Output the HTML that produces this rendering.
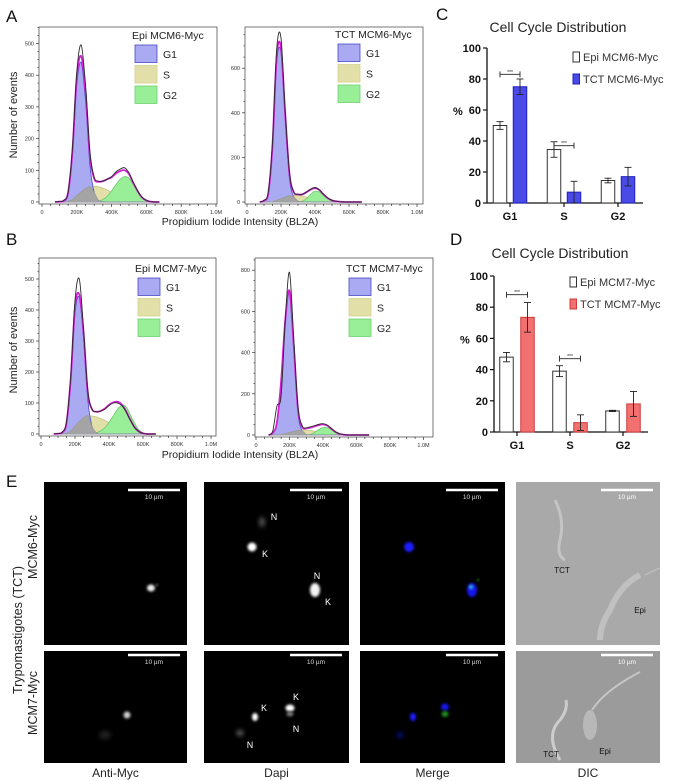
<!DOCTYPE html>
<html><head><meta charset="utf-8">
<style>
html,body{margin:0;padding:0;background:#fff;}
svg{display:block;font-family:"Liberation Sans",sans-serif;}
</style></head>
<body>
<svg id="fig" width="674" height="781" viewBox="0 0 674 781" xmlns="http://www.w3.org/2000/svg">
<defs>
<filter id="blur1" x="-50%" y="-50%" width="200%" height="200%"><feGaussianBlur stdDeviation="1.2"/></filter>
<filter id="blur2" x="-50%" y="-50%" width="200%" height="200%"><feGaussianBlur stdDeviation="2.5"/></filter>
</defs>
<g id="root"></g>
</svg>
<script>
// ---------- Histogram data (x grid in K units) ----------
const histK = [75,100,125,150,175,200,225,250,275,300,325,350,375,400,425,450,475,500,525,550,575,600,625,650,675];
// A1 Epi MCM6-Myc
const a1Total = [0,2,5,32,170,410,495,370,160,78,66,66,72,80,95,104,108,92,62,35,15,5,1,0,0];
const a1Fit   = [0,1,4,30,160,395,460,350,150,74,64,66,72,78,90,98,100,88,60,34,14,5,1,0,0];
const a1G1    = [0,0,2,25,150,370,440,320,120,30,5,1,0,0,0,0,0,0,0,0,0,0,0,0,0];
const a1S     = [0,0,0,2,8,20,32,42,48,50,48,44,38,30,22,15,9,4,2,0,0,0,0,0,0];
const a1G2    = [0,0,0,0,0,0,0,0,0,1,3,8,18,35,55,72,80,75,55,33,14,5,1,0,0];
// A2 TCT MCM6-Myc
const a2Total = [0,8,45,270,690,735,400,130,45,35,35,45,58,65,55,35,18,8,3,1,0,0,0,0,0];
const a2Fit   = [0,6,40,255,660,690,390,125,44,34,34,44,56,62,54,34,17,7,3,1,0,0,0,0,0];
const a2G1    = [0,5,38,245,630,670,370,105,22,4,0,0,0,0,0,0,0,0,0,0,0,0,0,0,0];
const a2S     = [0,0,0,2,8,15,22,28,30,30,27,22,16,10,5,2,0,0,0,0,0,0,0,0,0];
const a2G2    = [0,0,0,0,0,0,0,0,0,0,3,15,35,48,45,30,15,6,2,0,0,0,0,0,0];
// B1 Epi MCM7-Myc
const b1Total = [0,2,6,40,190,430,500,340,140,80,72,74,80,92,100,100,92,72,45,22,8,2,0,0,0];
const b1Fit   = [0,1,5,36,180,410,450,330,135,80,72,74,82,94,102,104,95,74,46,22,8,2,0,0,0];
const b1G1    = [0,0,3,32,170,390,440,310,110,25,4,0,0,0,0,0,0,0,0,0,0,0,0,0,0];
const b1S     = [0,0,0,3,10,25,40,52,58,58,55,50,44,36,28,20,12,6,2,0,0,0,0,0,0];
const b1G2    = [0,0,0,0,0,0,0,0,0,1,4,10,20,38,58,80,92,88,62,35,14,4,1,0,0];
// B2 TCT MCM7-Myc
const b2Total = [0,20,140,190,560,790,470,140,45,35,40,45,52,55,48,32,15,6,2,0,0,0,0,0,0];
const b2Fit   = [0,10,60,260,560,700,440,130,40,32,36,42,48,52,46,30,14,5,1,0,0,0,0,0,0];
const b2G1    = [0,9,58,255,550,690,420,110,20,3,0,0,0,0,0,0,0,0,0,0,0,0,0,0,0];
const b2S     = [0,0,0,2,6,12,18,22,24,24,22,18,14,9,5,2,0,0,0,0,0,0,0,0,0];
const b2G2    = [0,0,0,0,0,0,0,0,0,0,3,12,26,36,36,26,13,5,1,0,0,0,0,0,0];

// ---------- Bar chart data ----------
const phases = ["G1","S","G2"];
const cEpi = [50,34.5,14.5];
const cEpiErr = [2.5,5,1.5];
const cTct = [75,7,17];
const cTctErr = [5,7,6];
const cSig = [83,37];
const dEpi = [48,39,13.5];
const dEpiErr = [3,3.5,0.4];
const dTct = [73.5,6,18];
const dTctErr = [9.5,5,8];
const dSig = [88,47];
const barTicks = [0,20,40,60,80,100];

const NS="http://www.w3.org/2000/svg";
const root=document.getElementById('root');
function el(tag,attrs,parent,text){
  const e=document.createElementNS(NS,tag);
  for(const k in attrs) e.setAttribute(k,attrs[k]);
  if(text!==undefined) e.textContent=text;
  (parent||root).appendChild(e);
  return e;
}
function smooth(pts){
  let d='M'+pts[0][0].toFixed(1)+','+pts[0][1].toFixed(1);
  for(let i=0;i<pts.length-1;i++){
    const p0=pts[Math.max(0,i-1)],p1=pts[i],p2=pts[i+1],p3=pts[Math.min(pts.length-1,i+2)];
    const c1=[p1[0]+(p2[0]-p0[0])/6,p1[1]+(p2[1]-p0[1])/6];
    const c2=[p2[0]-(p3[0]-p1[0])/6,p2[1]-(p3[1]-p1[1])/6];
    d+='C'+c1[0].toFixed(1)+','+c1[1].toFixed(1)+' '+c2[0].toFixed(1)+','+c2[1].toFixed(1)+' '+p2[0].toFixed(1)+','+p2[1].toFixed(1);
  }
  return d;
}
function txt(x,y,s,size,attrs,parent){
  const a=Object.assign({x:x,y:y,'font-size':size,fill:'#222'},attrs||{});
  return el('text',a,parent,s);
}

function histogram(cfg){
  const g=el('g',{});
  
  
  const xs=k=>cfg.x0+k/200*cfg.px200;
  const ys=v=>cfg.y0-v*cfg.pxUnit;
  const fr=el('rect',{x:cfg.fx1,y:cfg.fy1,width:cfg.fx2-cfg.fx1,height:cfg.fy2-cfg.fy1,fill:'#fff',stroke:'#555','stroke-width':0.8},g);
  
  
  const area=(arr,fill,stroke,nm)=>{
    const pts=histK.map((k,i)=>[xs(k),ys(arr[i])]);
    const d=smooth(pts)+'L'+xs(histK[histK.length-1])+','+ys(0)+'L'+xs(histK[0])+','+ys(0)+'Z';
    const p=el('path',{d:d,fill:fill,stroke:stroke,'stroke-width':0.8},g);
    
    
  };
  area(cfg.S,'#e2e0a8','#c8c680','s-phase-area');
  area(cfg.G2,'#98ef98','#6cc86c','g2-phase-area');
  area(cfg.G1,'#aaaaf2','#4848c8','g1-phase-area');
  const ov=cfg.G1.map((v,i)=>Math.min(v,cfg.S[i]));
  area(ov,'#a4a4a4','#999','g1-s-overlap-area');
  const line=(arr,color,w,nm)=>{
    const p=el('path',{d:smooth(histK.map((k,i)=>[xs(k),ys(arr[i])])),fill:'none',stroke:color,'stroke-width':w},g);
    
    
  };
  line(cfg.fit,'#d21fd2',1.8,'model-fit-line');
  line(cfg.total,'#2a2a2a',0.9,'raw-data-line');
  const xl=['0','200K','400K','600K','800K','1.0M'];
  for(let i=0;i<=20;i++){
    const k=i*50,x=xs(k);
    el('line',{x1:x,y1:cfg.fy2,x2:x,y2:cfg.fy2+(i%4==0?3:2),stroke:'#333','stroke-width':0.7},g);
  }
  xl.forEach((s,i)=>{
    const t=txt(xs(i*200),cfg.fy2+10,s,5.5,{'text-anchor':'middle',fill:'#333'},g);
    
    
  });
  for(let v=0;v<=cfg.ymax;v+=cfg.ystep/4){
    const major=Math.abs(v/cfg.ystep-Math.round(v/cfg.ystep))<1e-6;
    el('line',{x1:cfg.fx1,y1:ys(v),x2:cfg.fx1-(major?3:1.5),y2:ys(v),stroke:'#333','stroke-width':0.7},g);
    if(major){
      const t=txt(cfg.fx1-5,ys(v)+2,String(v),5.5,{'text-anchor':'end',fill:'#333'},g);
      
      
    }
  }
  const lg=el('g',{},g);
  
  
  txt(cfg.lx-3,cfg.ly,cfg.title,10.5,{fill:'#222'},lg);
  const sw=[['G1','#aaaaf2','#4848c8'],['S','#e2e0a8','#d4d290'],['G2','#98ef98','#70d070']];
  sw.forEach((s,i)=>{
    const y=cfg.ly+6+i*20.5;
    const r=el('rect',{x:cfg.lx,y:y,width:22,height:17.5,fill:s[1],stroke:s[2],'stroke-width':0.8},lg);
    
    
    const t=txt(cfg.lx+28,y+13,s[0],10.5,{fill:'#222'},lg);
    
    
  });
}

histogram({name:'histogram-epi-mcm6',fx1:39,fx2:217,fy1:27,fy2:204,x0:42,px200:34.8,y0:202,pxUnit:0.317,ymax:550,ystep:100,
  total:a1Total,fit:a1Fit,G1:a1G1,S:a1S,G2:a1G2,title:'Epi MCM6-Myc',lx:135,ly:39});
histogram({name:'histogram-tct-mcm6',fx1:245,fx2:423,fy1:27,fy2:204,x0:247,px200:34,y0:202,pxUnit:0.223,ymax:780,ystep:200,
  total:a2Total,fit:a2Fit,G1:a2G1,S:a2S,G2:a2G2,title:'TCT MCM6-Myc',lx:338,ly:38});
histogram({name:'histogram-epi-mcm7',fx1:39,fx2:216,fy1:258,fy2:436,x0:41,px200:34,y0:434,pxUnit:0.31,ymax:550,ystep:100,
  total:b1Total,fit:b1Fit,G1:b1G1,S:b1S,G2:b1G2,title:'Epi MCM7-Myc',lx:138,ly:272});
histogram({name:'histogram-tct-mcm7',fx1:255,fx2:433,fy1:258,fy2:437,x0:256,px200:33.5,y0:435,pxUnit:0.206,ymax:850,ystep:200,
  total:b2Total,fit:b2Fit,G1:b2G1,S:b2S,G2:b2G2,title:'TCT MCM7-Myc',lx:349,ly:272});

function barChart(cfg){
  const g=el('g',{});
  
  
  const ys=v=>cfg.y0-v*cfg.pxUnit;
  const xc=i=>cfg.cx0+i*cfg.spacing;
  el('line',{x1:cfg.ax,y1:ys(100),x2:cfg.ax,y2:ys(0),stroke:'#111','stroke-width':1.3},g);
  el('line',{x1:cfg.ax,y1:ys(0),x2:cfg.axEnd,y2:ys(0),stroke:'#111','stroke-width':1.3},g);
  barTicks.forEach(v=>{
    el('line',{x1:cfg.ax-4,y1:ys(v),x2:cfg.ax,y2:ys(v),stroke:'#111','stroke-width':1.2},g);
    const t=txt(cfg.ax-6,ys(v)+4,String(v),11,{'text-anchor':'end','font-weight':'bold',fill:'#111'},g);
    
    
  });
  phases.forEach((p,i)=>{
    el('line',{x1:xc(i),y1:ys(0),x2:xc(i),y2:ys(0)+4,stroke:'#111','stroke-width':1.2},g);
    const t=txt(xc(i),ys(0)+17,p,11,{'text-anchor':'middle','font-weight':'bold',fill:'#111'},g);
    
    
    const draw=(val,err,x,fill,stroke,nm)=>{
      const r=el('rect',{x:x-cfg.bw/2,y:ys(val),width:cfg.bw,height:ys(0)-ys(val),fill:fill,stroke:stroke,'stroke-width':1},g);
      
      
      el('line',{x1:x,y1:ys(val-err),x2:x,y2:ys(val+err),stroke:'#222','stroke-width':0.9},g);
      el('line',{x1:x-3.5,y1:ys(val+err),x2:x+3.5,y2:ys(val+err),stroke:'#222','stroke-width':0.9},g);
      el('line',{x1:x-3.5,y1:ys(val-err),x2:x+3.5,y2:ys(val-err),stroke:'#222','stroke-width':0.9},g);
    };
    draw(cfg.epi[i],cfg.epiErr[i],xc(i)-cfg.off,'#fff','#333','bar-epi');
    draw(cfg.tct[i],cfg.tctErr[i],xc(i)+cfg.off,cfg.color,cfg.stroke,'bar-tct');
  });
  cfg.sig.forEach((v,i)=>{
    const x1=xc(i)-cfg.off,x2=xc(i)+cfg.off,y=ys(v);
    const s=el('g',{},g);
    
    
    el('line',{x1:x1,y1:y,x2:x2,y2:y,stroke:'#222','stroke-width':0.9},s);
    el('line',{x1:x1,y1:y-3,x2:x1,y2:y+3,stroke:'#222','stroke-width':0.9},s);
    el('line',{x1:x2,y1:y-3,x2:x2,y2:y+3,stroke:'#222','stroke-width':0.9},s);
    txt((x1+x2)/2,y-0.5,'***',5,{'text-anchor':'middle',fill:'#222'},s);
  });
  const t=txt(cfg.ax-34,ys(60)+5,'%',11,{'font-weight':'bold',fill:'#111'},g);
  
  
  const tt=txt(cfg.titleX,cfg.titleY,'Cell Cycle Distribution',14,{'text-anchor':'middle',fill:'#222'},g);
  
  
  const lg=el('g',{},g);
  
  
  el('rect',{x:cfg.lx,y:cfg.ly-9,width:6.5,height:10,fill:'#fff',stroke:'#333','stroke-width':1},lg);
  txt(cfg.lx+10,cfg.ly,cfg.l1,11,{fill:'#333'},lg);
  el('rect',{x:cfg.lx,y:cfg.ly+13,width:6.5,height:10,fill:cfg.color,stroke:cfg.stroke,'stroke-width':1},lg);
  txt(cfg.lx+10,cfg.ly+22,cfg.l2,11,{fill:'#333'},lg);
}
barChart({name:'bar-chart-mcm6',ax:487,axEnd:643,y0:203,pxUnit:1.55,cx0:510,spacing:54,off:10,bw:13.5,
  epi:cEpi,epiErr:cEpiErr,tct:cTct,tctErr:cTctErr,sig:cSig,color:'#4a4ae6',stroke:'#2020c0',
  titleX:558,titleY:32,lx:573,ly:61,l1:'Epi MCM6-Myc',l2:'TCT MCM6-Myc'});
barChart({name:'bar-chart-mcm7',ax:494,axEnd:648,y0:432,pxUnit:1.56,cx0:517,spacing:53,off:10.5,bw:13.5,
  epi:dEpi,epiErr:dEpiErr,tct:dTct,tctErr:dTctErr,sig:dSig,color:'#f27070',stroke:'#d03a3a',
  titleX:560,titleY:258,lx:570,ly:286,l1:'Epi MCM7-Myc',l2:'TCT MCM7-Myc'});

[['A',6,22],['B',6,245],['C',436,20],['D',450,245],['E',6,487]].forEach(a=>{
  const t=txt(a[1],a[2],a[0],17,{fill:'#111'});
  
  
});
[[225],[458]].forEach(a=>{
  const t=txt(240,a[0],'Propidium Iodide Intensity  (BL2A)',10.5,{'text-anchor':'middle',fill:'#222'});
  
  
});
[[115],[350]].forEach(a=>{
  const t=txt(0,0,'Number of events',11,{'text-anchor':'middle',fill:'#222',transform:'translate(17,'+a[0]+') rotate(-90)'});
  
  
});

// ---------- Microscopy panels ----------
const cols=[[44,187],[204,349],[360,505],[516,660]];
const rows=[[482,645],[651,763]];
const colNames=['anti-myc','dapi','merge','dic'];
rows.forEach((r,ri)=>{
  cols.forEach((c,ci)=>{
    const rc=el('rect',{x:c[0],y:r[0],width:c[1]-c[0],height:r[1]-r[0],fill:ci==3?(ri==0?'#a9a9a9':'#9b9b9b'):'#000'});
    
    
    const bx2=c[1]-7,bx1=bx2-52,by=r[0]+(ri==0?8:4);
    const sb=el('line',{x1:bx1,y1:by,x2:bx2,y2:by,stroke:'#fff','stroke-width':2.5});
    
    
    txt((bx1+bx2)/2,by+9,'10 µm',6.5,{'text-anchor':'middle',fill:ci==3?'#fff':'#ddd'});
  });
});
function blob(x,y,rx,ry,color,f){el('ellipse',{cx:x,cy:y,rx:rx,ry:ry,fill:color,filter:'url(#'+f+')'});}
blob(151,588,4,3.5,'#eee','blur1'); blob(157,585,1,1,'#aaa','blur1');
blob(262,522,3,5,'#555','blur2'); blob(252,547,4.5,4.5,'#fff','blur1'); blob(315,590,5,7,'#f4f4f4','blur1');
blob(409,547,5,5,'#1a1aff','blur1'); blob(472,590,5,7,'#1818f0','blur1'); blob(471,587,2,2,'#3cc','blur1'); blob(478,580,1,1,'#2c2','blur1');
blob(127,715,3.5,3.5,'#ccc','blur1'); blob(105,735,6,4,'#222','blur2');
blob(255,717,3,4,'#fff','blur1'); blob(290,708,4.5,3.5,'#fff','blur1'); blob(290,714,3.5,2.5,'#777','blur1'); blob(240,733,3.5,3,'#666','blur2');
blob(413,717,3,4,'#1a1aff','blur1'); blob(445,707,4,3.5,'#1616ee','blur1'); blob(445,714,3.5,3,'#1a8a1a','blur1'); blob(400,735,4,3,'#001070','blur2');
[[274,520,'N'],[265,557,'K'],[317,579,'N'],[328,605,'K'],[264,711,'K'],[296,700,'K'],[296,732,'N'],[250,748,'N']].forEach(a=>{
  const t=txt(a[0],a[1],a[2],9,{'text-anchor':'middle',fill:'#fff'});
  
  
});
el('path',{d:'M555,500 Q565,520 560,540 Q556,555 565,560',fill:'none',stroke:'#c4c4c4','stroke-width':3});
el('path',{d:'M640,575 Q620,585 610,610 Q600,625 600,640',fill:'none',stroke:'#c0c0c0','stroke-width':6});
el('path',{d:'M645,575 Q655,570 660,568',fill:'none',stroke:'#bbb','stroke-width':1.5});
el('path',{d:'M560,760 Q545,735 560,720 Q568,710 566,700',fill:'none',stroke:'#ccc','stroke-width':3});
el('ellipse',{cx:590,cy:725,rx:7,ry:15,fill:'#b8b8b8'});
el('path',{d:'M592,710 Q605,690 640,672',fill:'none',stroke:'#c6c6c6','stroke-width':2});
[[562,573,'TCT'],[640,613,'Epi'],[551,757,'TCT'],[605,754,'Epi']].forEach(a=>{
  const t=txt(a[0],a[1],a[2],8,{'text-anchor':'middle',fill:'#111'});
  
  
});
const rl=txt(0,0,'Trypomastigotes (TCT)',12.5,{'text-anchor':'middle',fill:'#222',transform:'translate(22,630) rotate(-90)'});


[[547,'MCM6-Myc'],[703,'MCM7-Myc']].forEach(a=>{
  const t=txt(0,0,a[1],12.5,{'text-anchor':'middle',fill:'#222',transform:'translate(37,'+a[0]+') rotate(-90)'});
  
  
});
['Anti-Myc','Dapi','Merge','DIC'].forEach((s,i)=>{
  const t=txt((cols[i][0]+cols[i][1])/2,777,s,12,{'text-anchor':'middle',fill:'#222'});
  
  
});
</script>
</body></html>
